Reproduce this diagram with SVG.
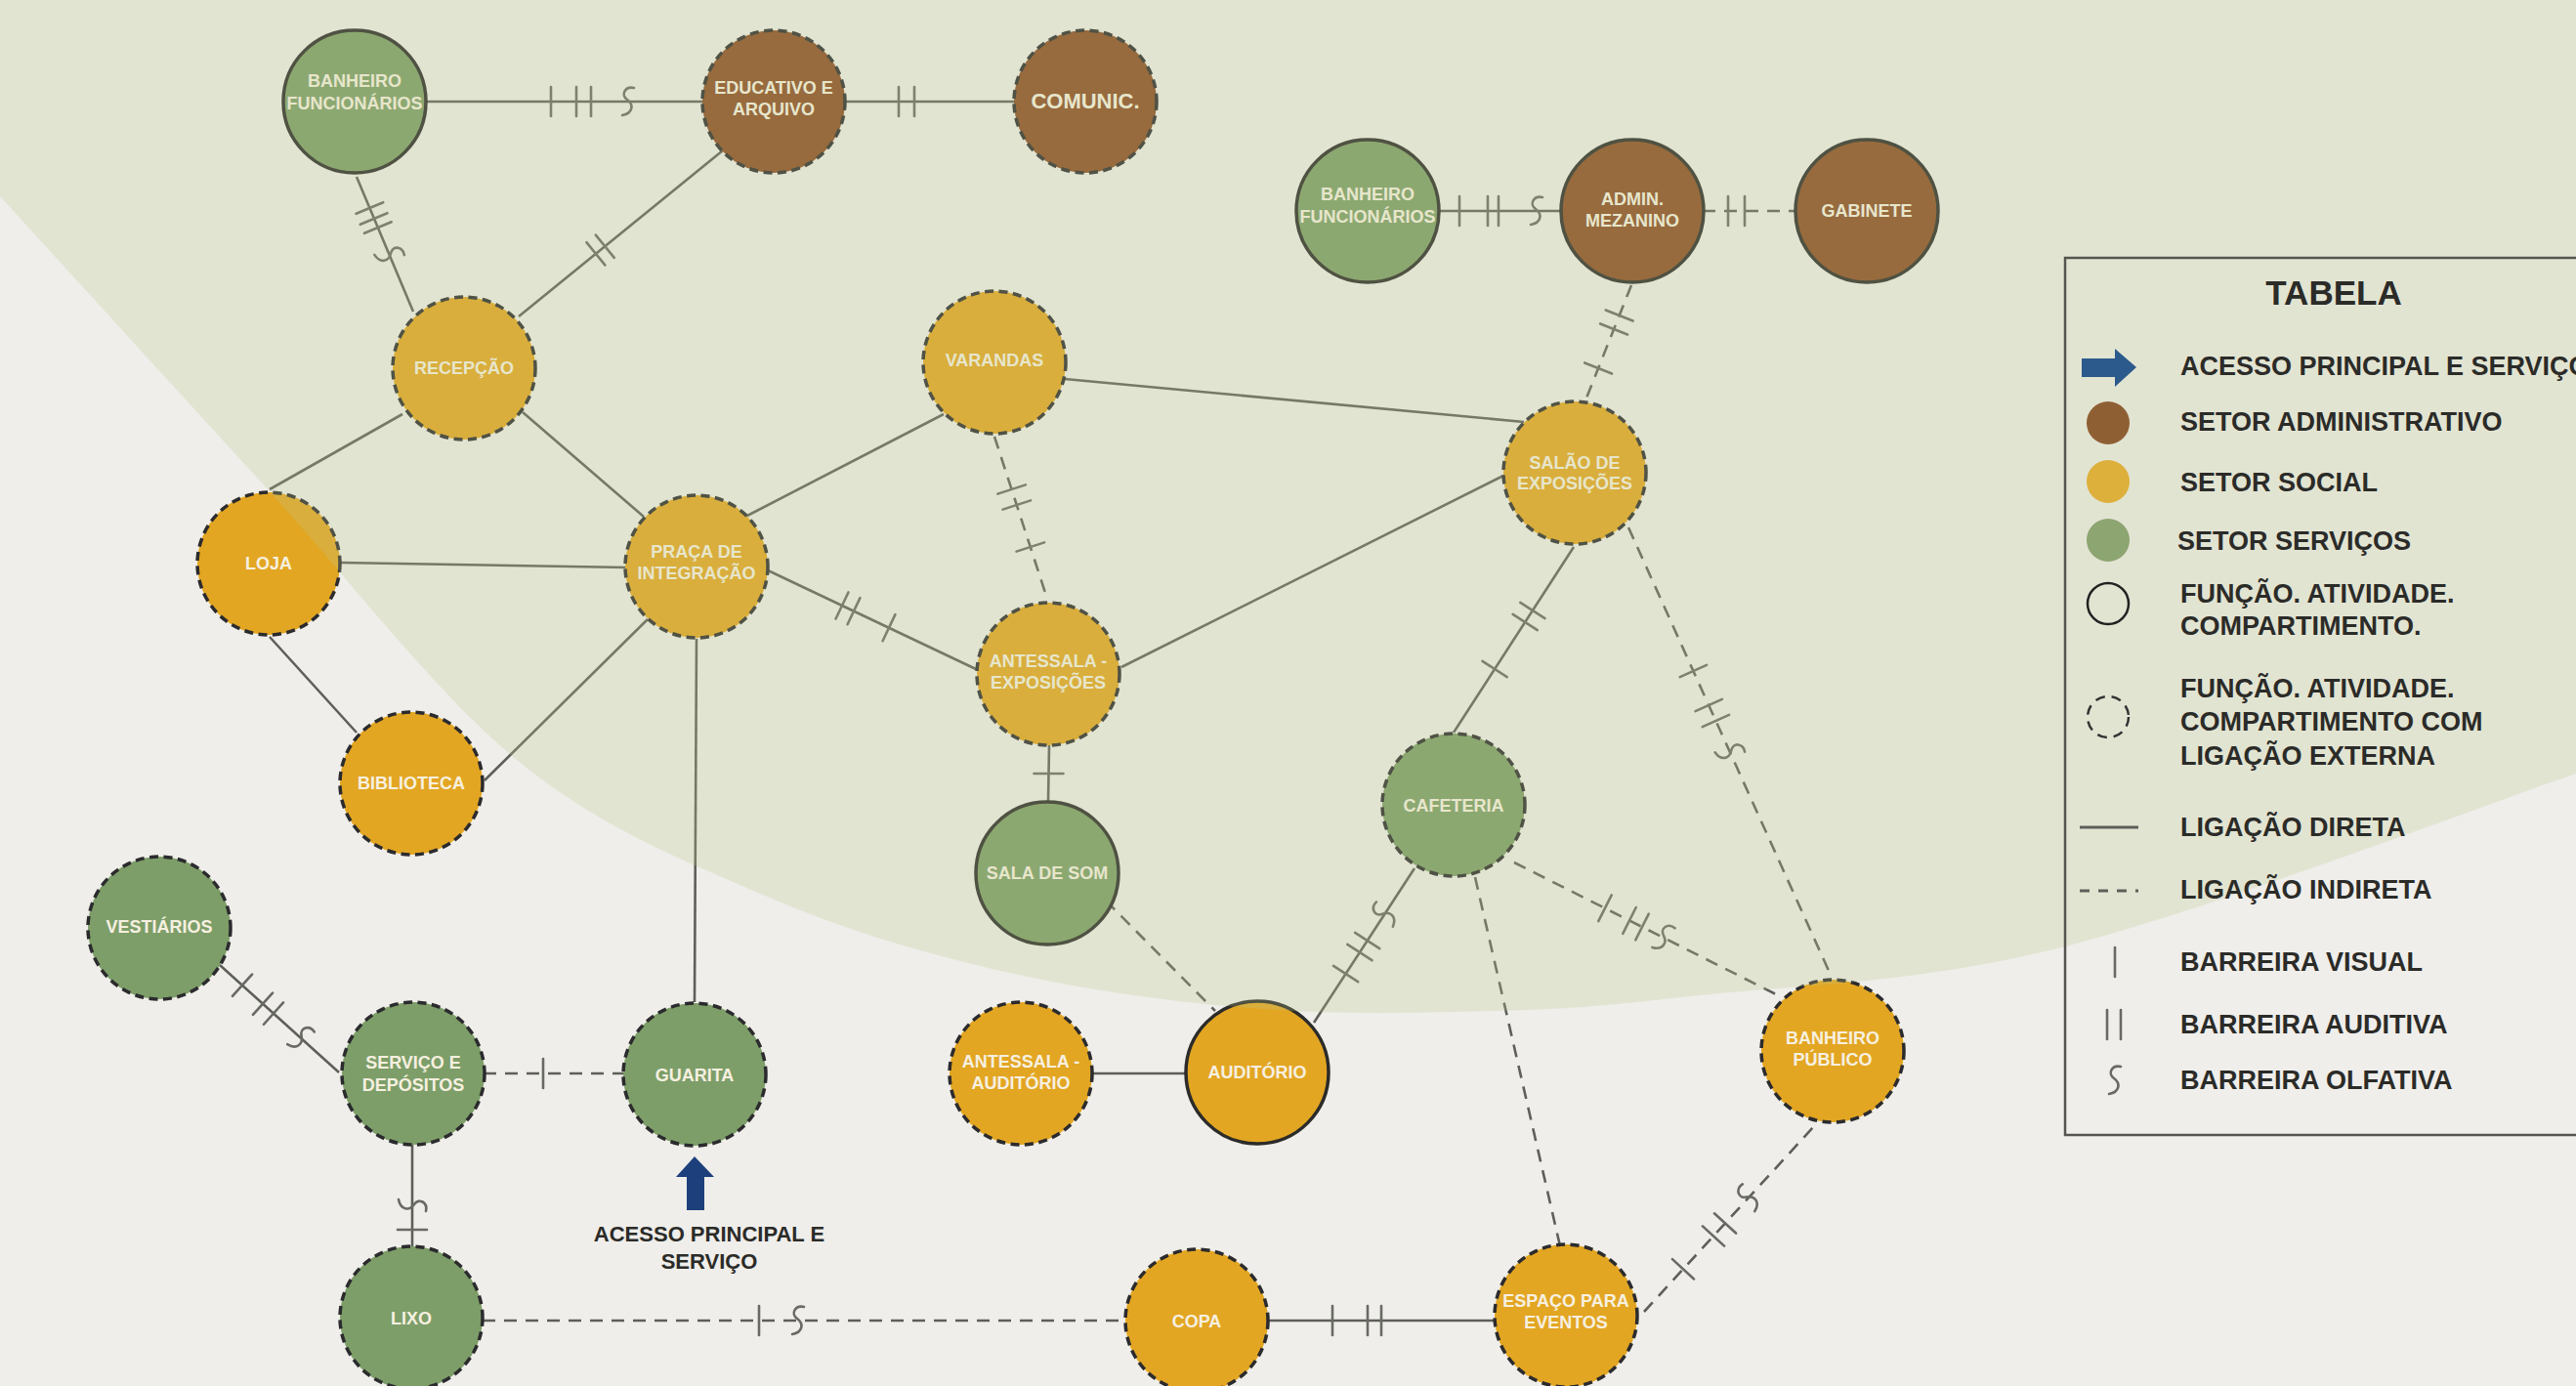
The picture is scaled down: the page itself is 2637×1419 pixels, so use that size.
<svg xmlns="http://www.w3.org/2000/svg" xmlns:xlink="http://www.w3.org/1999/xlink" width="2637" height="1419" viewBox="0 0 2637 1419">
<style>
.bg{fill:#efeeea}
.ln{stroke:#5e5f59;stroke-width:2.6;fill:none}
.dl{stroke:#5e5f59;stroke-width:2.6;fill:none;stroke-dasharray:13 9}
.mk{stroke:#696a64;stroke-width:2.6;fill:none;stroke-linecap:round;stroke-linejoin:round}
.nd{stroke:#2b2b2e;stroke-width:3.5;stroke-dasharray:9 5.5}
.ns{stroke:#2b2b2a;stroke-width:3.5}
.y{fill:#e3a622}
.g{fill:#7d9e68}
.b{fill:#8b4c24}
.lbl{font-family:"Liberation Sans",Arial,sans-serif;font-weight:bold;font-size:18px;fill:#f6f0e0;text-anchor:middle}
.leg{font-family:"Liberation Sans",Arial,sans-serif;font-weight:bold;font-size:27px;fill:#2b2b28}
.ov{fill:rgb(187,198,138);opacity:.25}
</style>
<defs>
<line id="bar" x1="0" y1="-15" x2="0" y2="15"/>
<path id="ss" d="M6,-14 C-3,-16 -8,-7 -1,-2 C6,3 5,12 -6,14"/>
</defs>
<rect class="bg" x="0" y="0" width="2637" height="1419"/>

<g id="connectors">
<line class="ln" x1="437" y1="104" x2="720" y2="104"/>
<line class="ln" x1="864" y1="104" x2="1039" y2="104"/>
<line class="ln" x1="365" y1="181" x2="423" y2="319"/>
<line class="ln" x1="740" y1="154" x2="531" y2="324"/>
<line class="ln" x1="412" y1="424" x2="276" y2="501"/>
<line class="ln" x1="535" y1="422" x2="659" y2="529"/>
<line class="ln" x1="348" y1="576" x2="643" y2="581"/>
<line class="ln" x1="966" y1="424" x2="763" y2="529"/>
<line class="ln" x1="1090" y1="388" x2="1560" y2="432"/>
<line class="dl" x1="1018" y1="447" x2="1072" y2="613"/>
<line class="ln" x1="784" y1="583" x2="999" y2="685"/>
<line class="ln" x1="663" y1="634" x2="496" y2="799"/>
<line class="ln" x1="276" y1="652" x2="365" y2="750"/>
<line class="ln" x1="713" y1="654" x2="711" y2="1026"/>
<line class="ln" x1="1148" y1="683" x2="1539" y2="487"/>
<line class="ln" x1="1074" y1="763" x2="1073" y2="820"/>
<line class="dl" x1="1670" y1="292" x2="1623" y2="410"/>
<line class="ln" x1="1472" y1="216" x2="1599" y2="216"/>
<line class="dl" x1="1743" y1="216" x2="1838" y2="216"/>
<line class="ln" x1="1611" y1="560" x2="1488" y2="750"/>
<line class="dl" x1="1667" y1="540" x2="1873" y2="996"/>
<line class="ln" x1="1448" y1="889" x2="1345" y2="1047"/>
<line class="dl" x1="1550" y1="883" x2="1820" y2="1019"/>
<line class="dl" x1="1510" y1="898" x2="1598" y2="1280"/>
<line class="dl" x1="1132" y1="922" x2="1244" y2="1035"/>
<line class="ln" x1="1117" y1="1099" x2="1215" y2="1099"/>
<line class="ln" x1="225" y1="988" x2="347" y2="1098"/>
<line class="dl" x1="495" y1="1099" x2="639" y2="1099"/>
<line class="ln" x1="422" y1="1172" x2="422" y2="1277"/>
<line class="dl" x1="494" y1="1352" x2="1152" y2="1352"/>
<line class="ln" x1="1297" y1="1352" x2="1530" y2="1352"/>
<line class="dl" x1="1683" y1="1343" x2="1858" y2="1152"/>
</g>

<g id="barriers" class="mk">
<use xlink:href="#bar" transform="translate(564,104)"/>
<use xlink:href="#bar" transform="translate(590,104)"/>
<use xlink:href="#bar" transform="translate(605,104)"/>
<use xlink:href="#ss" transform="translate(643,104)"/>
<use xlink:href="#bar" transform="translate(920,104)"/>
<use xlink:href="#bar" transform="translate(936,104)"/>
<use xlink:href="#bar" transform="translate(378.4,213) rotate(67.2)"/>
<use xlink:href="#bar" transform="translate(382.6,224) rotate(67.2)"/>
<use xlink:href="#bar" transform="translate(386.8,233) rotate(67.2)"/>
<use xlink:href="#ss" transform="translate(398.6,261) rotate(67.2)"/>
<use xlink:href="#bar" transform="translate(619.3,252.2) rotate(140.9)"/>
<use xlink:href="#bar" transform="translate(609.9,259.8) rotate(140.9)"/>
<use xlink:href="#bar" transform="translate(1035.6,501) rotate(72)"/>
<use xlink:href="#bar" transform="translate(1040.8,517) rotate(72)"/>
<use xlink:href="#bar" transform="translate(1054.8,560) rotate(72)"/>
<use xlink:href="#bar" transform="translate(862,620) rotate(25.4)"/>
<use xlink:href="#bar" transform="translate(874,625.7) rotate(25.4)"/>
<use xlink:href="#bar" transform="translate(910,642.7) rotate(25.4)"/>
<use xlink:href="#bar" transform="translate(1073.5,792) rotate(90)"/>
<use xlink:href="#bar" transform="translate(1657.7,323) rotate(111.7)"/>
<use xlink:href="#bar" transform="translate(1652.1,337) rotate(111.7)"/>
<use xlink:href="#bar" transform="translate(1636.1,377) rotate(111.7)"/>
<use xlink:href="#bar" transform="translate(1494,216)"/>
<use xlink:href="#bar" transform="translate(1523,216)"/>
<use xlink:href="#bar" transform="translate(1534,216)"/>
<use xlink:href="#ss" transform="translate(1573,216)"/>
<use xlink:href="#bar" transform="translate(1769,216)"/>
<use xlink:href="#bar" transform="translate(1786,216)"/>
<use xlink:href="#bar" transform="translate(1568.9,625) rotate(122.9)"/>
<use xlink:href="#bar" transform="translate(1561.2,637) rotate(122.9)"/>
<use xlink:href="#bar" transform="translate(1530.1,685) rotate(122.9)"/>
<use xlink:href="#bar" transform="translate(1733.4,687) rotate(65.7)"/>
<use xlink:href="#bar" transform="translate(1749.2,722) rotate(65.7)"/>
<use xlink:href="#bar" transform="translate(1756.4,738) rotate(65.7)"/>
<use xlink:href="#ss" transform="translate(1770.9,770) rotate(65.7)"/>
<use xlink:href="#bar" transform="translate(1377.6,997) rotate(123.1)"/>
<use xlink:href="#bar" transform="translate(1391.9,975) rotate(123.1)"/>
<use xlink:href="#bar" transform="translate(1399.7,963) rotate(123.1)"/>
<use xlink:href="#ss" transform="translate(1417.4,936) rotate(-56.9)"/>
<use xlink:href="#bar" transform="translate(1643,929.8) rotate(26.7)"/>
<use xlink:href="#bar" transform="translate(1668,942.4) rotate(26.7)"/>
<use xlink:href="#bar" transform="translate(1681,949) rotate(26.7)"/>
<use xlink:href="#ss" transform="translate(1703,960.1) rotate(26.7)"/>
<use xlink:href="#bar" transform="translate(248,1008.7) rotate(42)"/>
<use xlink:href="#bar" transform="translate(269,1027.7) rotate(42)"/>
<use xlink:href="#bar" transform="translate(280,1037.6) rotate(42)"/>
<use xlink:href="#ss" transform="translate(308,1062.8) rotate(42)"/>
<use xlink:href="#bar" transform="translate(556,1099)"/>
<use xlink:href="#ss" transform="translate(422,1234) rotate(90)"/>
<use xlink:href="#bar" transform="translate(422,1259) rotate(90)"/>
<use xlink:href="#bar" transform="translate(777,1352)"/>
<use xlink:href="#ss" transform="translate(817,1352)"/>
<use xlink:href="#bar" transform="translate(1364,1352)"/>
<use xlink:href="#bar" transform="translate(1400,1352)"/>
<use xlink:href="#bar" transform="translate(1414,1352)"/>
<use xlink:href="#bar" transform="translate(1723,1299.3) rotate(-47.5)"/>
<use xlink:href="#bar" transform="translate(1754,1265.5) rotate(-47.5)"/>
<use xlink:href="#bar" transform="translate(1766,1252.4) rotate(-47.5)"/>
<use xlink:href="#ss" transform="translate(1790,1226.2) rotate(-47.5)"/>
</g>

<g id="n-banheiro-funcionarios-1"><circle class="g ns" cx="363" cy="104" r="73"/><text class="lbl" x="363" y="89">BANHEIRO</text><text class="lbl" x="363" y="112">FUNCIONÁRIOS</text></g>
<g id="n-educativo"><circle class="b nd" cx="792" cy="104" r="73"/><text class="lbl" x="792" y="96">EDUCATIVO E</text><text class="lbl" x="792" y="118">ARQUIVO</text></g>
<g id="n-comunic"><circle class="b nd" cx="1111" cy="104" r="73"/><text class="lbl" x="1111" y="111" style="font-size:22px">COMUNIC.</text></g>
<g id="n-banheiro-funcionarios-2"><circle class="g ns" cx="1400" cy="216" r="73"/><text class="lbl" x="1400" y="205">BANHEIRO</text><text class="lbl" x="1400" y="228">FUNCIONÁRIOS</text></g>
<g id="n-admin"><circle class="b ns" cx="1671" cy="216" r="73"/><text class="lbl" x="1671" y="210">ADMIN.</text><text class="lbl" x="1671" y="232">MEZANINO</text></g>
<g id="n-gabinete"><circle class="b ns" cx="1911" cy="216" r="73"/><text class="lbl" x="1911" y="222">GABINETE</text></g>
<g id="n-recepcao"><circle class="y nd" cx="475" cy="377" r="73"/><text class="lbl" x="475" y="383">RECEPÇÃO</text></g>
<g id="n-varandas"><circle class="y nd" cx="1018" cy="371" r="73"/><text class="lbl" x="1018" y="375">VARANDAS</text></g>
<g id="n-salao"><circle class="y nd" cx="1612" cy="484" r="73"/><text class="lbl" x="1612" y="480">SALÃO DE</text><text class="lbl" x="1612" y="501">EXPOSIÇÕES</text></g>
<g id="n-loja"><circle class="y nd" cx="275" cy="577" r="73"/><text class="lbl" x="275" y="583">LOJA</text></g>
<g id="n-praca"><circle class="y nd" cx="713" cy="580" r="73"/><text class="lbl" x="713" y="571">PRAÇA DE</text><text class="lbl" x="713" y="593">INTEGRAÇÃO</text></g>
<g id="n-antessala-exposicoes"><circle class="y nd" cx="1073" cy="690" r="73"/><text class="lbl" x="1073" y="683">ANTESSALA -</text><text class="lbl" x="1073" y="705">EXPOSIÇÕES</text></g>
<g id="n-biblioteca"><circle class="y nd" cx="421" cy="802" r="73"/><text class="lbl" x="421" y="808">BIBLIOTECA</text></g>
<g id="n-sala-som"><circle class="g ns" cx="1072" cy="894" r="73"/><text class="lbl" x="1072" y="900">SALA DE SOM</text></g>
<g id="n-cafeteria"><circle class="g nd" cx="1488" cy="824" r="73"/><text class="lbl" x="1488" y="831">CAFETERIA</text></g>
<g id="n-vestiarios"><circle class="g nd" cx="163" cy="950" r="73"/><text class="lbl" x="163" y="955">VESTIÁRIOS</text></g>
<g id="n-servico"><circle class="g nd" cx="423" cy="1099" r="73"/><text class="lbl" x="423" y="1094">SERVIÇO E</text><text class="lbl" x="423" y="1117">DEPÓSITOS</text></g>
<g id="n-guarita"><circle class="g nd" cx="711" cy="1100" r="73"/><text class="lbl" x="711" y="1107">GUARITA</text></g>
<g id="n-antessala-auditorio"><circle class="y nd" cx="1045" cy="1099" r="73"/><text class="lbl" x="1045" y="1093">ANTESSALA -</text><text class="lbl" x="1045" y="1115">AUDITÓRIO</text></g>
<g id="n-auditorio"><circle class="y ns" cx="1287" cy="1098" r="73"/><text class="lbl" x="1287" y="1104">AUDITÓRIO</text></g>
<g id="n-banheiro-publico"><circle class="y nd" cx="1876" cy="1076" r="73"/><text class="lbl" x="1876" y="1069">BANHEIRO</text><text class="lbl" x="1876" y="1091">PÚBLICO</text></g>
<g id="n-lixo"><circle class="g nd" cx="421" cy="1349" r="73"/><text class="lbl" x="421" y="1356">LIXO</text></g>
<g id="n-copa"><circle class="y nd" cx="1225" cy="1352" r="73"/><text class="lbl" x="1225" y="1359">COPA</text></g>
<g id="n-espaco"><circle class="y nd" cx="1603" cy="1347" r="73"/><text class="lbl" x="1603" y="1338">ESPAÇO PARA</text><text class="lbl" x="1603" y="1360">EVENTOS</text></g>

<g id="acesso">
<polygon points="711,1184 731,1205 721,1205 721,1239 703,1239 703,1205 692,1205" fill="#1d3f7c"/>
<text class="leg" x="726" y="1271" style="font-size:22px;text-anchor:middle">ACESSO PRINCIPAL E</text>
<text class="leg" x="726" y="1299" style="font-size:22px;text-anchor:middle">SERVIÇO</text>
</g>

<path class="ov" d="M0,0 L0,201 C44,249 177,395 265,491 C353,587 442,706 528,777 C614,848 698,880 783,917 C868,954 953,978 1038,997 C1123,1016 1211,1027 1293,1033 C1375,1039 1457,1037 1530,1035 C1603,1033 1633,1031 1730,1020 C1827,1009 1959,1008 2110,970 C2261,932 2549,822 2637,792 L2637,0 Z"/>

<g id="legend">
<rect x="2114" y="264" width="560" height="898" fill="none" stroke="#555550" stroke-width="2.5"/>
<text class="leg" x="2389" y="312" style="font-size:35px;text-anchor:middle">TABELA</text>
<polygon points="2131,367 2165,367 2165,357 2187,376 2165,396 2165,386 2131,386" fill="#2c5a8c"/>
<text class="leg" x="2232" y="384">ACESSO PRINCIPAL E SERVIÇO</text>
<circle cx="2158" cy="433" r="22" fill="#8f5f34"/>
<text class="leg" x="2232" y="441">SETOR ADMINISTRATIVO</text>
<circle cx="2158" cy="493" r="22" fill="#ddb03c"/>
<text class="leg" x="2232" y="503">SETOR SOCIAL</text>
<circle cx="2158" cy="553" r="22" fill="#8ca571"/>
<text class="leg" x="2229" y="563">SETOR SERVIÇOS</text>
<circle cx="2158" cy="618" r="21" fill="none" stroke="#222" stroke-width="2.5"/>
<text class="leg" x="2232" y="617">FUNÇÃO. ATIVIDADE.</text>
<text class="leg" x="2232" y="650">COMPARTIMENTO.</text>
<circle cx="2158" cy="734" r="21" fill="none" stroke="#333" stroke-width="2.5" stroke-dasharray="10 7"/>
<text class="leg" x="2232" y="714">FUNÇÃO. ATIVIDADE.</text>
<text class="leg" x="2232" y="748">COMPARTIMENTO COM</text>
<text class="leg" x="2232" y="783">LIGAÇÃO EXTERNA</text>
<line class="ln" x1="2129" y1="847" x2="2189" y2="847" style="stroke-width:3"/>
<text class="leg" x="2232" y="856">LIGAÇÃO DIRETA</text>
<line class="dl" x1="2129" y1="912" x2="2189" y2="912" style="stroke-width:3;stroke-dasharray:10 9"/>
<text class="leg" x="2232" y="920">LIGAÇÃO INDIRETA</text>
<use xlink:href="#bar" class="mk" transform="translate(2165,985)"/>
<text class="leg" x="2232" y="994">BARREIRA VISUAL</text>
<use xlink:href="#bar" class="mk" transform="translate(2157,1049)"/>
<use xlink:href="#bar" class="mk" transform="translate(2171,1049)"/>
<text class="leg" x="2232" y="1058">BARREIRA AUDITIVA</text>
<use xlink:href="#ss" class="mk" transform="translate(2165,1106)"/>
<text class="leg" x="2232" y="1115">BARREIRA OLFATIVA</text>
</g>
</svg>
